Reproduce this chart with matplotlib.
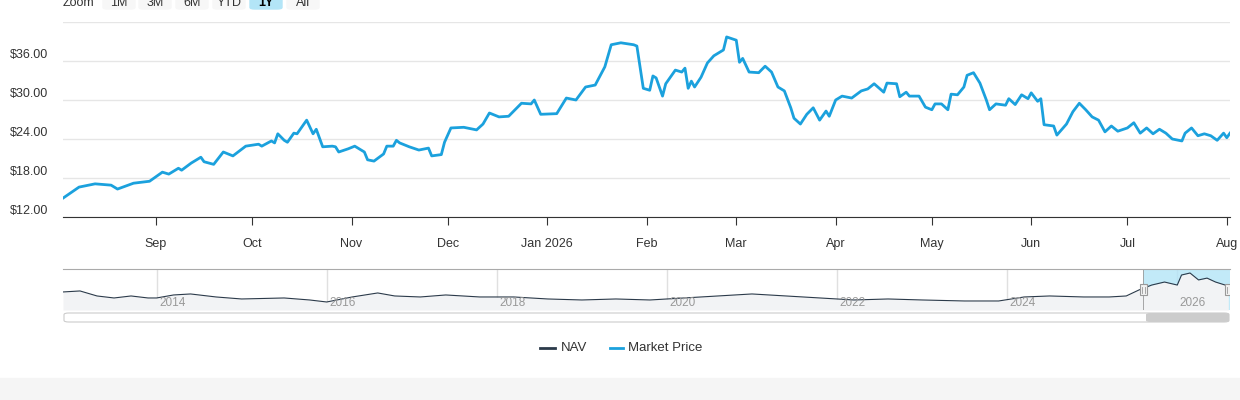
import matplotlib
matplotlib.use("Agg")
import matplotlib.pyplot as plt
from matplotlib.patches import Rectangle, FancyBboxPatch
import datetime as dt

plt.rcParams['font.family'] = ['Liberation Sans', 'DejaVu Sans']

start = dt.date(2025, 8, 3)
day_offsets = [0,5,10,15,17,22,27,31,33,36,37,40,43,44,47,50,53,57,61,62,65,66,67,69,70,72,73,76,78,79,81,84,85,86,89,91,94,95,97,100,101,103,104,105,
 108,111,114,115,118,119,121,125,129,131,133,136,139,143,146,147,149,154,157,160,163,166,169,171,174,178,179,181,183,184,185,187,188,191,193,194,195,196,197,199,201,203,206,207,210,211,212,214,217,219,221,223,225,227,228,230,232,234,236,238,239,241,243,246,249,251,253,256,257,260,261,263,264,267,269,271,272,274,276,277,279,281,282,284,286,288,289,291,294,295,297,299,301,302,304,305,306,309,310,313,315,317,319,321,323,325,327,329,332,334,336,338,340,342,344,346,349,350,352,354,356,358,360,362,363,364]
market_price = [14.9,16.6,17.1,16.9,16.3,17.2,17.5,18.9,18.6,19.5,19.2,20.3,21.2,20.5,20.1,22.0,21.4,22.9,23.2,22.9,23.7,23.4,24.8,23.8,23.5,24.9,24.8,26.9,24.8,25.5,22.8,22.9,22.8,22.0,22.5,22.9,22.0,20.8,20.6,21.7,22.9,22.9,23.8,23.4,
 22.8,22.3,22.6,21.4,21.6,23.5,25.7,25.8,25.4,26.3,28.0,27.4,27.5,29.5,29.4,30.0,27.8,27.9,30.3,30.0,32.0,32.3,35.1,38.5,38.8,38.5,38.3,31.8,31.5,33.7,33.4,30.6,32.5,34.6,34.3,34.9,31.8,32.9,32.0,33.5,35.7,36.8,37.7,39.7,39.2,35.8,36.4,34.3,34.2,35.2,34.3,32.0,31.4,28.8,27.2,26.3,27.8,28.8,26.9,28.3,27.5,30.0,30.6,30.3,31.4,31.7,32.5,31.2,32.6,32.5,30.5,31.2,30.6,30.6,28.9,28.5,29.4,29.4,28.5,30.9,30.8,32.0,33.8,34.2,32.6,30.0,28.5,29.4,29.2,30.2,29.3,30.8,30.2,31.1,29.8,30.2,26.2,26.0,24.6,26.3,28.2,29.5,28.5,27.4,26.9,25.1,26.0,25.2,25.7,26.5,24.9,25.7,24.8,25.5,24.9,24.0,23.7,24.9,25.7,24.5,24.8,24.5,23.8,24.9,24.2,24.9]
dates = [start + dt.timedelta(days=d) for d in day_offsets]

nav_years = [2012.9,2013.1,2013.3,2013.5,2013.7,2013.9,2014.0,2014.2,2014.4,2014.7,2015.0,2015.5,2015.8,2016.0,2016.3,2016.6,2016.8,2017.1,2017.4,2017.8,2018.2,2018.6,2019.0,2019.4,2019.8,2020.2,2020.6,2021.0,2021.4,2021.8,2022.2,2022.6,2023.0,2023.5,2023.9,2024.2,2024.5,2024.9,2025.2,2025.4,2025.55,2025.7,2025.85,2026.0,2026.05,2026.15,2026.25,2026.35,2026.45,2026.6]
nav_values = [19.8,20.9,15.4,13.2,15.4,13.2,13.2,16.5,17.6,14.3,12.1,13.2,11.0,8.8,14.3,18.7,15.4,14.3,16.5,14.3,14.3,12.1,11.0,12.1,11.0,13.2,15.4,17.6,15.4,13.2,11.0,12.1,11.0,9.9,9.9,14.3,15.4,14.3,14.3,15.4,22.0,27.4,30.7,27.4,38.4,40.6,33.0,35.0,30.7,26.3]

yticks = [12, 18, 24, 30, 36]
month_ticks = [dt.date(2025, m, 1) for m in range(9, 13)] + [dt.date(2026, m, 1) for m in range(1, 9)]
month_labels = ['Sep','Oct','Nov','Dec','Jan 2026','Feb','Mar','Apr','May','Jun','Jul','Aug']
year_ticks = [2014, 2016, 2018, 2020, 2022, 2024, 2026]

BLUE = '#1ba1dd'
DARK = '#2b3a4a'
W, H = 1240, 400
fig = plt.figure(figsize=(12.4, 4), dpi=100)

def rect(x0, y0, x1, y1):
    return [x0 / W, 1 - y1 / H, (x1 - x0) / W, (y1 - y0) / H]

fig.patches.append(Rectangle((0, 0), 1, 22 / H, transform=fig.transFigure, color='#f5f5f5', zorder=0))

ax = fig.add_axes(rect(63, 22, 1230, 217))
ax.plot(dates, market_price, color=BLUE, lw=2, solid_joinstyle='round')
ax.set_xlim(start, dt.date(2026, 8, 2))
ax.set_ylim(12, 42)
ax.set_yticks(yticks + [42])
ax.yaxis.grid(True, color='#e6e6e6', lw=1)
ax.set_yticklabels([])
ax.tick_params(axis='y', length=0)
for v in yticks:
    ax.text(-0.0454, v + 0.9, f'${v:.2f}', transform=ax.get_yaxis_transform(), ha='left', va='center', fontsize=9, color='#333333')
ax.set_xticks(month_ticks)
ax.set_xticklabels(month_labels, fontsize=9, color='#333333')
ax.tick_params(axis='x', length=6, color='#333333', pad=9)
for s in ['top', 'right', 'left']:
    ax.spines[s].set_visible(False)
ax.spines['bottom'].set_color('#333333')

# zoom buttons (partially above the top edge, as in the reference)
fig.text(63 / W, 1 - 3 / H, 'Zoom', fontsize=9, color='#333333', va='center')
btns = [('1M', 103), ('3M', 139), ('6M', 176), ('YTD', 213), ('1Y', 250), ('All', 287)]
for lab, x in btns:
    sel = lab == '1Y'
    fig.patches.append(FancyBboxPatch((x / W, 1 - 9 / H), 32 / W, 14 / H, boxstyle='round,pad=0,rounding_size=0.004',
                                      transform=fig.transFigure, color='#b3e5f7' if sel else '#f7f7f7', zorder=1))
    fig.text((x + 16) / W, 1 - 3 / H, lab, fontsize=9, color='#000000' if sel else '#333333', ha='center', va='center',
             fontweight='bold' if sel else 'normal', zorder=2)

# navigator
nx = fig.add_axes(rect(63, 269, 1230, 310))
nx.fill_between(nav_years, nav_values, 0, color='#f2f3f5', lw=0)
nx.plot(nav_years, nav_values, color=DARK, lw=0.8)
nx.set_xlim(2012.9, 2026.62)
nx.set_ylim(0, 45)
for yv in year_ticks:
    nx.axvline(yv, color='#e0e0e0', lw=1, zorder=0)
    nx.text(yv + 0.03, 8, str(yv), fontsize=8.5, color='#999999', ha='left', va='center')
nx.axvspan(2025.6, 2026.62, color='#b3e5f7', alpha=0.8, lw=0, zorder=0.5)
for xv in [2025.6, 2026.6]:
    nx.add_patch(Rectangle((xv - 0.04, 16), 0.08, 12, facecolor='#f2f2f2', edgecolor='#999999', lw=0.8, zorder=5))
    nx.plot([xv - 0.01, xv - 0.01], [19, 25], color='#999999', lw=0.6, zorder=6)
    nx.plot([xv + 0.015, xv + 0.015], [19, 25], color='#999999', lw=0.6, zorder=6)
nx.set_xticks([]); nx.set_yticks([])
for s in ['left', 'right', 'bottom']:
    nx.spines[s].set_visible(False)
nx.spines['top'].set_color('#aaaaaa')
nx.axvline(2025.6, color='#999999', lw=0.6)

# scrollbar
fig.patches.append(FancyBboxPatch((64 / W, 1 - 322 / H), 1165 / W, 9 / H, boxstyle='round,pad=0,rounding_size=0.004',
                                  transform=fig.transFigure, facecolor='white', edgecolor='#cccccc', lw=0.8))
fig.patches.append(FancyBboxPatch((1146 / W, 1 - 322 / H), 83 / W, 9 / H, boxstyle='round,pad=0,rounding_size=0.004',
                                  transform=fig.transFigure, facecolor='#cccccc', edgecolor='none'))

# legend
ly = 1 - 348 / H
fig.lines.append(plt.Line2D([540 / W, 555 / W], [ly, ly], color=DARK, lw=2, transform=fig.transFigure))
fig.text(561 / W, ly, 'NAV', fontsize=9.5, color='#333333', va='center')
fig.lines.append(plt.Line2D([610 / W, 623 / W], [ly, ly], color=BLUE, lw=2, transform=fig.transFigure))
fig.text(628 / W, ly, 'Market Price', fontsize=9.5, color='#333333', va='center')

fig.savefig('out.png', dpi=100)
